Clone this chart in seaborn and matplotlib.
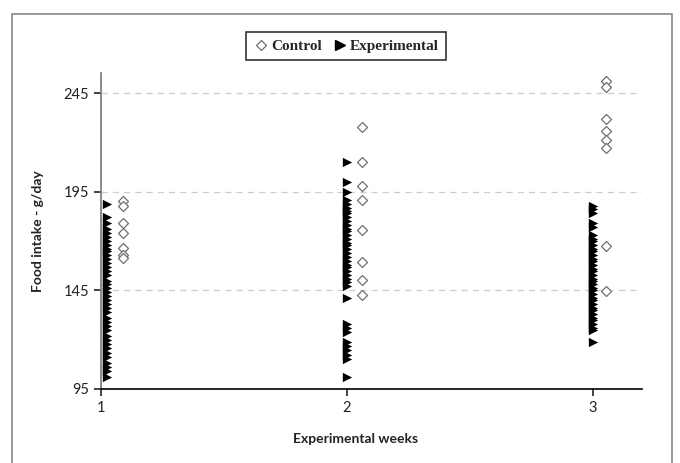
import numpy as np
import pandas as pd
import matplotlib.pyplot as plt
import seaborn as sns
from matplotlib.lines import Line2D
from matplotlib.patches import Rectangle

weeks = [1, 2, 3]

control_w1 = [190.5, 188, 179, 174, 166.5, 163, 161.5]
control_w2 = [228, 210, 198, 191, 175.5, 159.5, 150.5, 142.5]
control_w3 = [251, 248, 232, 226, 221, 217, 167.5, 144.5]

exp_w1 = [189, 182, 179, 176, 174, 172, 170, 168, 166, 165, 163, 161, 159, 157,
          155, 153, 150, 148, 146, 144, 142, 140, 138, 136, 134, 131, 129, 127,
          125, 122, 120, 118, 116, 113, 111, 108, 106, 104, 101]
exp_w2 = [210, 200, 195, 191, 189, 187, 185, 184, 182, 180, 178, 176, 175, 173,
          171, 169, 168, 166, 164, 162, 160, 158, 157, 155, 153, 151, 149, 147,
          141, 128, 126, 124, 119, 117, 115, 112, 110, 101]
exp_w3 = [188, 186, 184, 179, 177, 173, 171, 170, 168, 166, 165, 163, 161, 160,
          158, 156, 155, 153, 151, 150, 148, 146, 145, 143, 141, 140, 138, 136,
          135, 133, 131, 130, 128, 126, 125, 119]

y_ticks = [95, 145, 195, 245]

CONTROL_OFFSET = [0.09, 0.06, 0.055]
EXP_OFFSET = [0.025, 0.0, 0.0]

rows = []
for i, (c, e) in enumerate(zip([control_w1, control_w2, control_w3],
                               [exp_w1, exp_w2, exp_w3])):
    for v in c:
        rows.append(('Control', weeks[i] + CONTROL_OFFSET[i], v))
    for v in e:
        rows.append(('Experimental', weeks[i] + EXP_OFFSET[i], v))
data = pd.DataFrame(rows, columns=['group', 'week', 'intake'])

sns.set_style('white')
plt.rcParams['font.family'] = ['Lato', 'DejaVu Sans']

fig = plt.figure(figsize=(6.8, 4.63), dpi=100)
ax = fig.add_axes([101 / 680, 1 - 389 / 463, 541 / 680, 316 / 463])

sns.scatterplot(data=data[data.group == 'Experimental'], x='week', y='intake',
                marker='>', color='black', edgecolor='black', s=45, linewidth=0,
                ax=ax, legend=False, zorder=3)
sns.scatterplot(data=data[data.group == 'Control'], x='week', y='intake',
                marker='D', color='white', edgecolor='#707070', s=26, linewidth=0.9,
                ax=ax, legend=False, zorder=4)

ax.set_xlim(1, 3.2)
ax.set_ylim(95, 255.2)
ax.set_xticks(weeks)
ax.set_yticks(y_ticks)
ax.tick_params(axis='both', direction='out', length=5, width=1.2, labelsize=10.5,
               colors='#222222', bottom=True, left=True)
for yv in y_ticks[1:]:
    ax.axhline(yv, color='#cccccc', lw=0.9, ls=(0, (5, 4)), zorder=1)

for s in ['top', 'right']:
    ax.spines[s].set_visible(False)
ax.spines['left'].set_color('#777777')
ax.spines['bottom'].set_color('black')
ax.spines['left'].set_linewidth(1.2)
ax.spines['bottom'].set_linewidth(1.2)

ax.set_xlabel('Experimental weeks', fontsize=10, fontweight='bold', color='#222222')
ax.set_ylabel('Food intake - g/day', fontsize=10, fontweight='bold', color='#222222')
ax.xaxis.set_label_coords(0.471, -0.14)
ax.yaxis.set_label_coords(-0.105, 0.5)

handles = [
    Line2D([], [], marker='D', ls='none', markerfacecolor='white',
           markeredgecolor='#707070', markersize=5, markeredgewidth=0.9),
    Line2D([], [], marker='>', ls='none', color='black', markersize=6.5),
]
leg = fig.legend(handles, ['Control', 'Experimental'], loc='center',
                 bbox_to_anchor=(346 / 680, 1 - 46 / 463), ncol=2, frameon=True,
                 prop={'family': 'Liberation Serif', 'weight': 'bold', 'size': 11},
                 handletextpad=0.15, columnspacing=0.7, handlelength=1.0,
                 borderpad=0.45, fancybox=False, edgecolor='black')
leg.get_frame().set_linewidth(1.2)

fig.patches.append(Rectangle((12 / 680, -0.1), 660 / 680, 1.1 - 14 / 463,
                             transform=fig.transFigure, fill=False,
                             edgecolor='#888888', lw=1.2))

fig.savefig('out.png', dpi=100)
